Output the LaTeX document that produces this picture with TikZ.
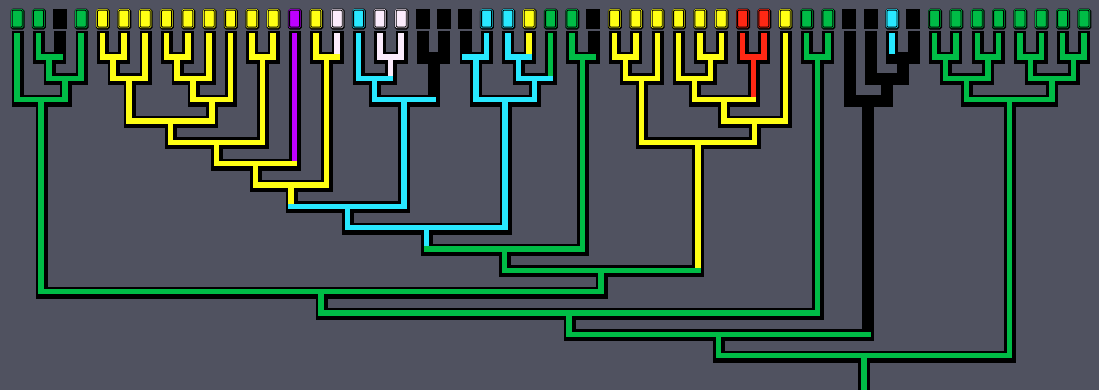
\documentclass[tikz,border=0pt]{standalone}
\usepackage{tikz}
\usetikzlibrary{calc}
\definecolor{bgcol}{RGB}{80,82,96}
\definecolor{tg}{RGB}{0,188,70}
\definecolor{ty}{RGB}{255,255,20}
\definecolor{tc}{RGB}{40,232,255}
\definecolor{tp}{RGB}{190,0,255}
\definecolor{tr}{RGB}{255,40,20}
\definecolor{tw}{RGB}{252,236,252}
\pgfdeclarelayer{back}
\pgfdeclarelayer{shade}
\pgfdeclarelayer{bars}
\pgfsetlayers{back,shade,main,bars}
\tikzset{
    tip/.style = {rectangle, draw=#1, double=black, double distance=0.9pt, line width=0.6pt, fill=#1, rounded corners=1pt, minimum width=10pt, minimum height=17pt, inner sep=0pt, preaction={draw=black, line width=4pt, transform canvas={xshift=0.4pt, yshift=-0.6pt}}},
    tipg/.style = {tip=tg},
    tipy/.style = {tip=ty},
    tipc/.style = {tip=tc},
    tipp/.style = {tip=tp},
    tipr/.style = {tip=tr},
    tipw/.style = {tip=tw},
    tipk/.style = {rectangle, fill=black, minimum width=14pt, minimum height=20pt, inner sep=0pt},
    twig/.style = {draw=#1, line width=5.5pt, line cap=rect},
    twigshade/.style = {draw=black, line width=12pt, line cap=rect, transform canvas={xshift=0.5pt, yshift=-1pt}}
}
% one clade: node, its colour, left child, its colour, right child, its colour
\newcommand\clade[6]{%
    \begin{pgfonlayer}{shade}
        \draw[twigshade] (#3) -- (#3 |- #1) -- (#5 |- #1) -- (#5);
    \end{pgfonlayer}
    \draw[twig=#4] (#3) -- (#3 |- #1);
    \draw[twig=#6] (#5) -- (#5 |- #1);
    \begin{pgfonlayer}{bars}
        \draw[twig=#2] (#3 |- #1) -- (#5 |- #1);
    \end{pgfonlayer}}

\begin{document}
\begin{tikzpicture}[x=21.335pt, y=-21.335pt]
        % Background
        \begin{pgfonlayer}{back}
            \fill[bgcol] (-17.2pt,35.67pt) rectangle (1081.8pt,-354.33pt);
        \end{pgfonlayer}
        \useasboundingbox (-17.2pt,35.67pt) rectangle (1081.8pt,-354.33pt);

        % Tips
        \foreach \c [count=\i from 0] in {g,g,k,g,y,y,y,y,y,y,y,y,y,p,y,w,c,w,w,k,k,k,c,c,y,g,g,k,y,y,y,y,y,y,r,r,y,g,g,k,k,c,k,g,g,g,g,g,g,g,g} {
            \node[tip\c] (l\i) at (\i,-0.8) {};
            \coordinate (t\i) at (\i,0);
        }

        % Clade positions (x, level)
        \coordinate (a1) at (1.5,1);
        \coordinate (a2) at (2.25,2);
        \coordinate (a3) at (1.125,3);
        \coordinate (y1) at (4.5,1);
        \coordinate (y2) at (5.25,2);
        \coordinate (y3) at (7.5,1);
        \coordinate (y4) at (8.25,2);
        \coordinate (y6) at (9.125,3);
        \coordinate (y5) at (7.1875,4);
        \coordinate (y7) at (11.5,1);
        \coordinate (y8) at (9.344,5);
        \coordinate (y9) at (11.172,6);
        \coordinate (y10) at (14.5,1);
        \coordinate (y11) at (12.836,7);
        \coordinate (w1) at (17.5,1);
        \coordinate (c1) at (16.75,2);
        \coordinate (k1) at (19.5,1);
        \coordinate (c3) at (18.125,3);
        \coordinate (c4) at (15.48,8);
        \coordinate (c6) at (21.5,1);
        \coordinate (c7) at (23.5,1);
        \coordinate (c9) at (24.25,2);
        \coordinate (c8) at (22.875,3);
        \coordinate (c5) at (19.178,9);
        \coordinate (g0) at (26.5,1);
        \coordinate (g1) at (22.839,10);
        \coordinate (z1) at (28.5,1);
        \coordinate (z2) at (29.25,2);
        \coordinate (z3) at (32.5,1);
        \coordinate (z4) at (31.75,2);
        \coordinate (r1) at (34.5,1);
        \coordinate (z5) at (33.125,3);
        \coordinate (z6) at (34.5625,4);
        \coordinate (z7) at (31.906,5);
        \coordinate (g2) at (27.373,11);
        \coordinate (g3) at (14.249,12);
        \coordinate (g5) at (37.5,1);
        \coordinate (g4) at (25.874,13);
        \coordinate (k2) at (41.5,1);
        \coordinate (k3) at (40.75,2);
        \coordinate (k4) at (39.875,3);
        \coordinate (g6) at (32.875,14);
        \coordinate (h1) at (43.5,1);
        \coordinate (h2) at (45.5,1);
        \coordinate (h3) at (47.5,1);
        \coordinate (h4) at (49.5,1);
        \coordinate (h5) at (44.5,2);
        \coordinate (h6) at (48.5,2);
        \coordinate (h7) at (46.5,3);
        \coordinate (g8) at (39.687,15);
        \coordinate (root) at (39.687,17);

        % Left green clade
        \clade{a1}{tg}{t1}{tg}{t2}{black}
        \clade{a2}{tg}{a1}{tg}{t3}{tg}
        \clade{a3}{tg}{t0}{tg}{a2}{tg}

        % Yellow clade
        \clade{y1}{ty}{t4}{ty}{t5}{ty}
        \clade{y2}{ty}{y1}{ty}{t6}{ty}
        \clade{y3}{ty}{t7}{ty}{t8}{ty}
        \clade{y4}{ty}{y3}{ty}{t9}{ty}
        \clade{y6}{ty}{y4}{ty}{t10}{ty}
        \clade{y5}{ty}{y2}{ty}{y6}{ty}
        \clade{y7}{ty}{t11}{ty}{t12}{ty}
        \clade{y8}{ty}{y5}{ty}{y7}{ty}
        \clade{y9}{ty}{y8}{ty}{t13}{tp}
        \clade{y10}{ty}{t14}{ty}{t15}{tw}
        \clade{y11}{ty}{y9}{ty}{y10}{ty}

        % Cyan clade
        \clade{w1}{tw}{t17}{tw}{t18}{tw}
        \clade{c1}{tc}{t16}{tc}{w1}{tw}
        \clade{k1}{black}{t19}{black}{t20}{black}
        \clade{c3}{tc}{c1}{tc}{k1}{black}
        \clade{c4}{tc}{y11}{ty}{c3}{tc}
        \clade{c6}{tc}{t21}{black}{t22}{tc}
        \clade{c7}{tc}{t23}{tc}{t24}{ty}
        \clade{c9}{tc}{c7}{tc}{t25}{tg}
        \clade{c8}{tc}{c6}{tc}{c9}{tc}
        \clade{c5}{tc}{c4}{tc}{c8}{tc}
        \clade{g0}{tg}{t26}{tg}{t27}{black}
        \clade{g1}{tg}{c5}{tc}{g0}{tg}

        % Yellow and red clade
        \clade{z1}{ty}{t28}{ty}{t29}{ty}
        \clade{z2}{ty}{z1}{ty}{t30}{ty}
        \clade{z3}{ty}{t32}{ty}{t33}{ty}
        \clade{z4}{ty}{t31}{ty}{z3}{ty}
        \clade{r1}{tr}{t34}{tr}{t35}{tr}
        \clade{z5}{ty}{z4}{ty}{r1}{tr}
        \clade{z6}{ty}{z5}{ty}{t36}{ty}
        \clade{z7}{ty}{z2}{ty}{z6}{ty}

        % Backbone
        \clade{g2}{tg}{g1}{tg}{z7}{ty}
        \clade{g3}{tg}{a3}{tg}{g2}{tg}
        \clade{g5}{tg}{t37}{tg}{t38}{tg}
        \clade{g4}{tg}{g3}{tg}{g5}{tg}

        % Black clade
        \clade{k2}{black}{t41}{tc}{t42}{black}
        \clade{k3}{black}{t40}{black}{k2}{black}
        \clade{k4}{black}{t39}{black}{k3}{black}
        \clade{g6}{tg}{g4}{tg}{k4}{black}

        % Right green clade
        \clade{h1}{tg}{t43}{tg}{t44}{tg}
        \clade{h2}{tg}{t45}{tg}{t46}{tg}
        \clade{h3}{tg}{t47}{tg}{t48}{tg}
        \clade{h4}{tg}{t49}{tg}{t50}{tg}
        \clade{h5}{tg}{h1}{tg}{h2}{tg}
        \clade{h6}{tg}{h3}{tg}{h4}{tg}
        \clade{h7}{tg}{h5}{tg}{h6}{tg}
        \clade{g8}{tg}{g6}{tg}{h7}{tg}

        % Root
        \begin{pgfonlayer}{shade}
            \draw[twigshade] (g8) -- (root);
        \end{pgfonlayer}
        \draw[twig=tg] (g8) -- (root);

    \end{tikzpicture}
\end{document}
